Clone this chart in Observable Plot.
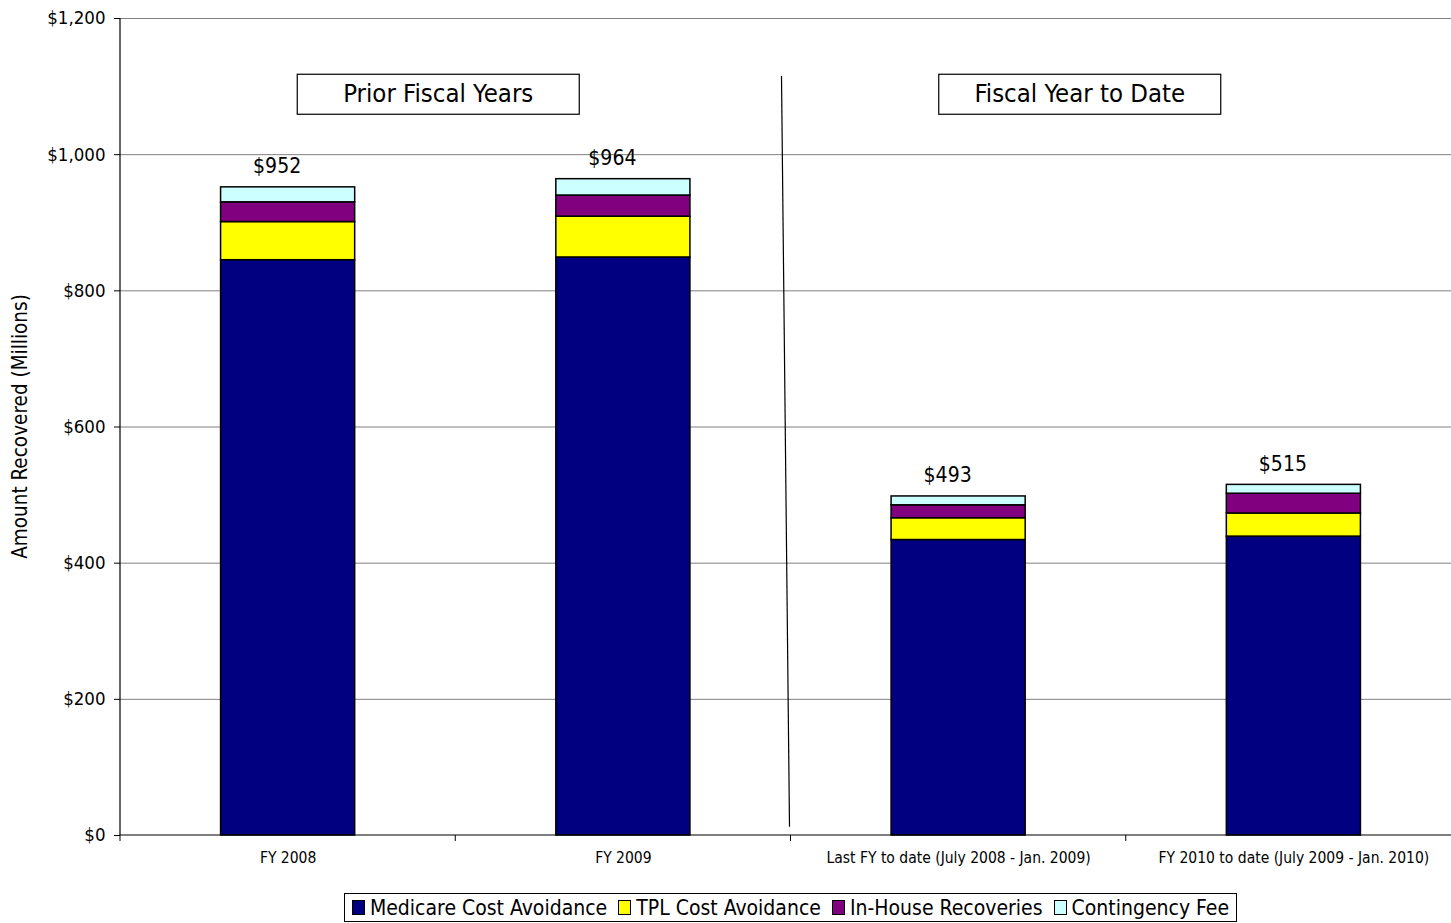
<!DOCTYPE html>
<html><head><meta charset="utf-8">
<script src="https://cdn.jsdelivr.net/npm/d3@7"></script>
<script src="https://cdn.jsdelivr.net/npm/@observablehq/plot@0.6"></script>
<style>
body{margin:0;background:#fff;font-family:"DejaVu Sans Condensed","DejaVu Sans",sans-serif;color:#000;overflow:hidden;}
#legend{margin-left:344px;margin-top:5px;width:893px;height:29px;border:1px solid #000;box-sizing:border-box;display:flex;align-items:center;justify-content:center;font-size:21px;white-space:nowrap;}
#legend .item{display:flex;align-items:center;margin:0 11px 0 0;}
#legend .item:last-child{margin-right:0;}
#legend .sw{width:11px;height:13px;border:1.5px solid #000;margin-right:5px;}
</style></head><body>
<div id="chart"></div>
<div id="legend"></div>
<script>
const categories = ["FY 2008", "FY 2009", "Last FY to date (July 2008 - Jan. 2009)", "FY 2010 to date (July 2009 - Jan. 2010)"];
const seriesNames = ["Medicare Cost Avoidance", "TPL Cost Avoidance", "In-House Recoveries", "Contingency Fee"];
const seriesColors = ["#000080", "#FFFF00", "#800080", "#CCFFFF"];
const medicare = [845, 849, 434, 439];
const tpl = [56, 60, 32, 34];
const inHouse = [29, 31, 19, 29];
const contingency = [22, 24, 13, 13];
const totalLabels = ["$952", "$964", "$493", "$515"];
const yTicks = [0, 200, 400, 600, 800, 1000, 1200];
const groupLabels = ["Prior Fiscal Years", "Fiscal Year to Date"];
const groupY = [1088, 1088];
const separatorY = [1115, 12];
const yAxisTitle = "Amount Recovered (Millions)";

const seriesValues = [medicare, tpl, inHouse, contingency];
const rows = [];
categories.forEach((c, i) => seriesNames.forEach((s, j) => rows.push({category: c, series: s, value: seriesValues[j][i]})));
const totals = categories.map((c, i) => ({category: c, total: seriesValues.reduce((a, s) => a + s[i], 0), label: totalLabels[i]}));
const fmt = d3.format(",");

const plot = Plot.plot({
  width: 1451, height: 888,
  marginLeft: 120, marginRight: 0, marginTop: 18, marginBottom: 53,
  style: {fontFamily: '"DejaVu Sans Condensed","DejaVu Sans",sans-serif', background: "white", color: "black", overflow: "visible"},
  x: {domain: categories, paddingInner: 0.6, paddingOuter: 0.3, round: false, range: [120, 1461], label: null},
  y: {domain: [0, 1200], label: null},
  color: {domain: seriesNames, range: seriesColors},
  marks: [
    Plot.ruleY(yTicks.filter(d => d > 0), {stroke: "#808080", strokeWidth: 1}),
    Plot.barY(rows, {x: "category", y: "value", fill: "series", stroke: "black", strokeWidth: 1.5}),
    Plot.text(totals, {x: "category", y: "total", text: "label", dx: -11, dy: -21, fontSize: 21, fill: "black"}),
    Plot.axisY({ticks: yTicks, tickFormat: d => "$" + fmt(d), tickSize: 6, tickPadding: 9, fontSize: 18.5, label: null}),
    Plot.axisX({tickSize: 0, tickPadding: 16, fontSize: 15.5, label: null})
  ]
});
document.getElementById("chart").appendChild(plot);

// annotations drawn through the plot's own scales
const xs = plot.scale("x"), ys = plot.scale("y");
const X = d => xs.apply(d), Y = d => ys.apply(d);
const step = xs.step, bw = xs.bandwidth;
const svg = d3.select(plot);
const g = svg.append("g");
const x0 = X(categories[0]) - step * 0.3;
const xEnd = x0 + step * categories.length;
// axis lines
g.append("line").attr("x1", x0).attr("x2", x0).attr("y1", Y(1200)).attr("y2", Y(0)).attr("stroke", "black").attr("stroke-width", 1.2);
g.append("line").attr("x1", x0).attr("x2", xEnd).attr("y1", Y(0)).attr("y2", Y(0)).attr("stroke", "black").attr("stroke-width", 1.2);
// category boundary ticks
for (let i = 0; i <= categories.length; i++) {
  const bx = x0 + i * step;
  g.append("line").attr("x1", bx).attr("x2", bx).attr("y1", Y(0)).attr("y2", Y(0) + 6).attr("stroke", "black");
}
// separator
const sepX = x0 + 2 * step;
g.append("line").attr("x1", sepX - 9).attr("x2", sepX - 1).attr("y1", Y(separatorY[0])).attr("y2", Y(separatorY[1])).attr("stroke", "black").attr("stroke-width", 1.2);
// group boxes
const groupCenters = [
  (X(categories[0]) + X(categories[1])) / 2 + bw / 2 - 17,
  (X(categories[2]) + X(categories[3])) / 2 + bw / 2 - 46
];
groupLabels.forEach((t, i) => {
  const cx = groupCenters[i], cy = Y(groupY[i]);
  g.append("rect").attr("x", cx - 141).attr("y", cy - 20).attr("width", 282).attr("height", 40)
    .attr("fill", "white").attr("stroke", "black").attr("stroke-width", 1.2);
  g.append("text").attr("x", cx).attr("y", cy).attr("dy", "0.3em").attr("text-anchor", "middle")
    .attr("font-size", 25.5).attr("fill", "black").text(t);
});
// y axis title
g.append("text").attr("transform", `translate(${x0 - 100},${(Y(0) + Y(1200)) / 2}) rotate(-90)`)
  .attr("text-anchor", "middle").attr("dy", "0.35em").attr("font-size", 20.5).attr("fill", "black").text(yAxisTitle);

// legend
const leg = d3.select("#legend");
seriesNames.forEach((s, i) => {
  const it = leg.append("div").attr("class", "item");
  it.append("div").attr("class", "sw").style("background", seriesColors[i]);
  it.append("span").text(s);
});
</script>
</body></html>
